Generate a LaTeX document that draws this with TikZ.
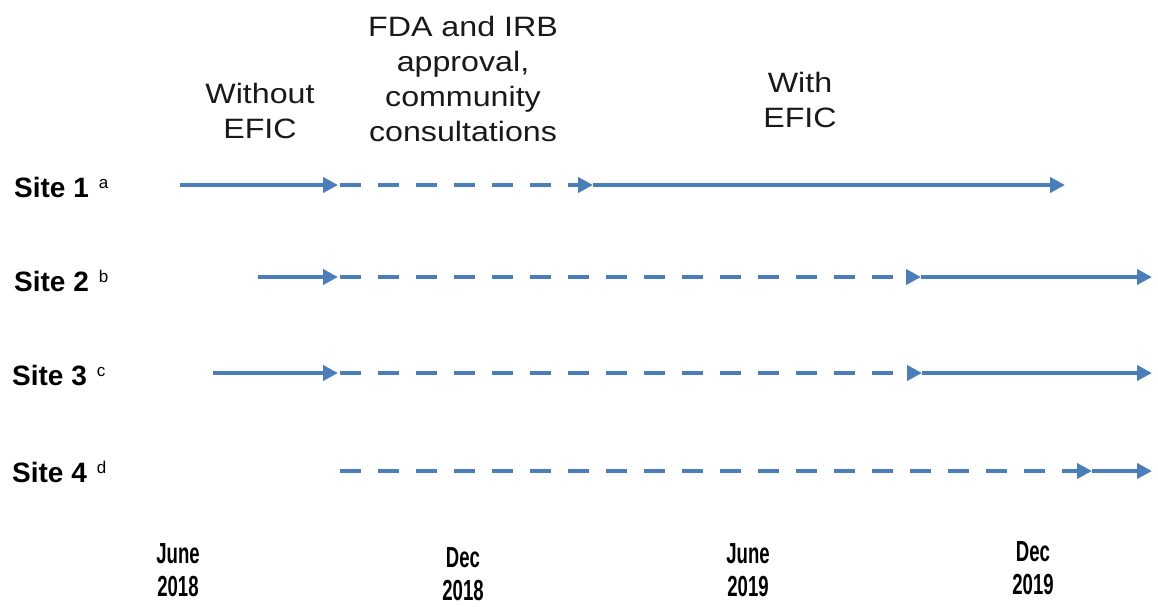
\documentclass[tikz,border=0pt]{standalone}
\usepackage{fontspec}
\setmainfont{Liberation Sans}
\newfontfamily\hdrfont[FakeStretch=1.15]{Liberation Sans}
\newfontfamily\datefont[FakeStretch=0.64]{Liberation Sans}
\usetikzlibrary{arrows.meta}
\definecolor{lineblue}{HTML}{4A7EBB}
\tikzset{
  seg/.style={draw=lineblue, line width=4pt, -{Triangle[length=15pt,width=15pt]}},
  solidseg/.style={seg},
  dashseg/.style={seg, dash pattern=on 21pt off 17pt},
  sitelbl/.style={anchor=west, inner sep=0pt, font=\fontsize{28}{30}\selectfont\bfseries},
  hdr/.style={align=center, inner sep=0pt, font=\hdrfont\fontsize{28}{35}\selectfont, text=black!90},
  datelbl/.style={align=center, inner sep=0pt, font=\datefont\bfseries\fontsize{29}{33}\selectfont}
}
\newcommand{\supmark}[1]{\hspace{10pt}\raisebox{9pt}{\normalfont\fontsize{17}{17}\selectfont #1}}
\begin{document}
\begin{tikzpicture}[x=1pt,y=-1pt]
\useasboundingbox (0,0) rectangle (1158,606);
% headers
\node[hdr] (h1) at (260,111) {Without\\EFIC};
\node[hdr] (h2) at (463,79) {FDA and IRB\\approval,\\community\\consultations};
\node[hdr] (h3) at (800,100) {With\\EFIC};
% site labels
\node[sitelbl] (l1) at (14,187) {Site 1\supmark{a}};
\node[sitelbl] (l2) at (14,281) {Site 2\supmark{b}};
\node[sitelbl] (l3) at (12,376) {Site 3\supmark{c}};
\node[sitelbl] (l4) at (12,472) {Site 4\supmark{d}};
% dates
\node[datelbl] (d1) at (178,570) {June\\2018};
\node[datelbl] (d2) at (463,574) {Dec\\2018};
\node[datelbl] (d3) at (748,570) {June\\2019};
\node[datelbl] (d4) at (1033,568) {Dec\\2019};
% coordinates
\coordinate (r1a) at (180,185);
\coordinate (r1b) at (338,185);
\coordinate (r1b2) at (340,185);
\coordinate (r1c) at (593,185);
\coordinate (r1d) at (1065,185);
\coordinate (r2a) at (258,277);
\coordinate (r2b) at (338,277);
\coordinate (r2b2) at (340,277);
\coordinate (r2c) at (921,277);
\coordinate (r2d) at (1152,277);
\coordinate (r3a) at (213,373);
\coordinate (r3b) at (338,373);
\coordinate (r3b2) at (340,373);
\coordinate (r3c) at (922,373);
\coordinate (r3d) at (1152,373);
\coordinate (r4a) at (340,471);
\coordinate (r4b) at (1092,471);
\coordinate (r4c) at (1152,471);
% site 1
\draw[solidseg] (r1a) -- (r1b);
\draw[dashseg] (r1b2) -- (r1c);
\draw[solidseg] (r1c) -- (r1d);
% site 2
\draw[solidseg] (r2a) -- (r2b);
\draw[dashseg] (r2b2) -- (r2c);
\draw[solidseg] (r2c) -- (r2d);
% site 3
\draw[solidseg] (r3a) -- (r3b);
\draw[dashseg] (r3b2) -- (r3c);
\draw[solidseg] (r3c) -- (r3d);
% site 4
\draw[dashseg] (r4a) -- (r4b);
\draw[solidseg] (r4b) -- (r4c);
\end{tikzpicture}
\end{document}
